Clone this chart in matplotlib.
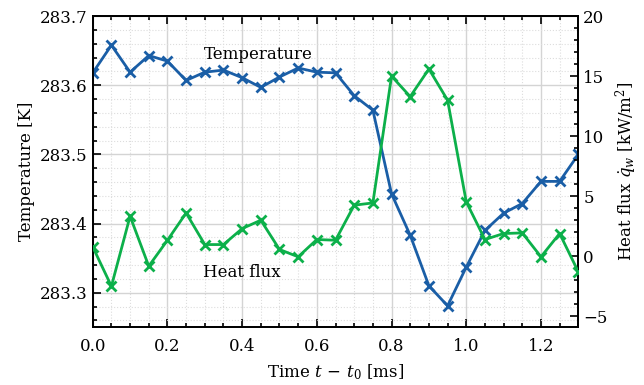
import numpy as np
import matplotlib
matplotlib.use("Agg")
import matplotlib.pyplot as plt
from matplotlib.ticker import MultipleLocator

plt.rcParams["font.family"] = "DejaVu Serif"
plt.rcParams["mathtext.fontset"] = "dejavuserif"
plt.rcParams["font.size"] = 12

# dados
tempo = [0.00, 0.05, 0.10, 0.15, 0.20, 0.25, 0.30, 0.35, 0.40, 0.45,
         0.50, 0.55, 0.60, 0.65, 0.70, 0.75, 0.80, 0.85, 0.90, 0.95,
         1.00, 1.05, 1.10, 1.15, 1.20, 1.25, 1.30]
temperatura = [283.618, 283.658, 283.619, 283.643, 283.635, 283.607, 283.619,
               283.622, 283.611, 283.597, 283.612, 283.625, 283.619, 283.618,
               283.585, 283.564, 283.443, 283.383, 283.310, 283.281, 283.337,
               283.390, 283.415, 283.429, 283.461, 283.461, 283.500]
fluxo = [0.78, -2.5, 3.33, -0.83, 1.33, 3.6, 0.97, 0.97, 2.3, 3.0,
         0.56, -0.05, 1.39, 1.33, 4.25, 4.44, 15.0, 13.3, 15.6, 13.0,
         4.53, 1.39, 1.89, 1.94, -0.05, 1.89, -1.3]

AZUL = "#1a5ea6"
VERDE = "#0cb04a"

fig, ax = plt.subplots(figsize=(6.44, 3.85), dpi=100)
fig.subplots_adjust(left=0.144, right=0.898, top=0.958, bottom=0.150)
ax2 = ax.twinx()

ax.plot(tempo, temperatura, color=AZUL, lw=2, marker="x", ms=6.5, mew=2, zorder=3)
ax2.plot(tempo, fluxo, color=VERDE, lw=2, marker="x", ms=6.5, mew=2, zorder=3)

ax.set_xlim(0, 1.3)
ax.set_ylim(283.25, 283.7)
ax2.set_ylim(-5.92, 20)

ax.xaxis.set_major_locator(MultipleLocator(0.2))
ax.xaxis.set_minor_locator(MultipleLocator(0.05))
ax.yaxis.set_major_locator(MultipleLocator(0.1))
ax.yaxis.set_minor_locator(MultipleLocator(0.02))
ax2.yaxis.set_major_locator(MultipleLocator(5))
ax2.yaxis.set_minor_locator(MultipleLocator(1))

ax.grid(True, which="major", color="#d4d4d4", lw=1)
ax.grid(True, which="minor", color="#dddddd", lw=0.8, ls=":")
ax.set_axisbelow(True)

for a in (ax, ax2):
    a.tick_params(which="both", direction="in", width=1.2)
    a.tick_params(which="major", length=6)
    a.tick_params(which="minor", length=3)
    for s in a.spines.values():
        s.set_linewidth(1.3)
ax.tick_params(which="both", top=True)
ax.tick_params(axis="x", which="major", pad=8)

ax.set_xlabel(r"Time $t\,-\,t_0$ [ms]", labelpad=5)
ax.set_ylabel("Temperature [K]")
ax2.set_ylabel(r"Heat flux $\dot{q}_w$ [kW/m$^2$]")

ax.text(0.442, 283.645, "Temperature", ha="center", va="center")
ax.text(0.40, 283.329, "Heat flux", ha="center", va="center")

fig.savefig("out.png", dpi=100)
